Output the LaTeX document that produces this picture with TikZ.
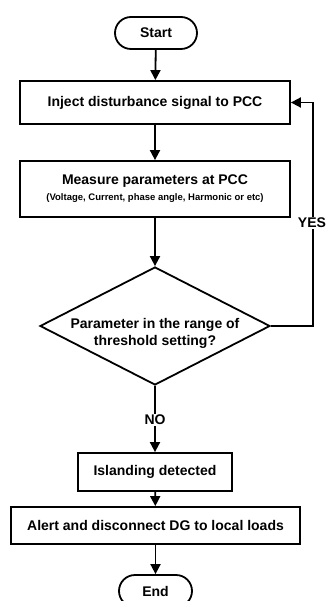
\documentclass[tikz,border=0pt]{standalone}
\usepackage{fontspec}
\setmainfont{Liberation Sans}
\usetikzlibrary{shapes.geometric,arrows.meta}
\begin{document}
\begin{tikzpicture}[x=1pt, y=-1pt, line width=1.8pt, >={Triangle[width=10pt,length=10pt]},
  every node/.style={font=\bfseries\fontsize{14}{17}\selectfont},
  term/.style={draw, rounded corners=16pt, minimum height=32pt, inner sep=0pt},
  procbox/.style={draw, align=center, inner sep=0pt},
  decbox/.style={draw, diamond, align=center, aspect=1.95, inner sep=-4pt, minimum width=230pt, minimum height=118pt},
  lbl/.style={fill=white, inner sep=1.5pt}]
\useasboundingbox (0,0) rectangle (326,601);
\node[term, minimum width=82pt] (start) at (156,33) {Start};
\node[procbox, minimum width=270pt, minimum height=43pt] (inject) at (155,102.5) {Inject disturbance signal to PCC};
\node[procbox, minimum width=270pt, minimum height=56pt] (measure) at (155,189) {Measure parameters at PCC\\[-1pt]{\fontsize{9.5}{11}\selectfont (Voltage, Current, phase angle, Harmonic or etc)}};
\node[decbox] (check) at (155,326) {\raisebox{-8pt}[\height][\depth]{\begin{tabular}{@{}c@{}}Parameter in the range of\\threshold setting?\end{tabular}}};
\node[procbox, minimum width=154pt, minimum height=38pt] (island) at (155,472) {Islanding detected};
\node[procbox, minimum width=289pt, minimum height=37pt] (alert) at (155.5,525.5) {Alert and disconnect DG to local loads};
\node[term, minimum width=73pt] (end) at (155.5,591) {End};

\coordinate (yesturn) at (313,326);
\draw[->] (start) -- (inject);
\draw[->] (inject) -- (measure);
\draw[->] (measure) -- (check);
\draw[->] (check) -- (island);
\draw[->] (island) -- (alert);
\draw[->] (alert) -- (end);
\draw[->] (check.east) -- (yesturn) |- (inject.east);

\node[lbl] (yes) at (312,223) {YES};
\node[lbl] (no) at (155,420) {NO};
\end{tikzpicture}
\end{document}
